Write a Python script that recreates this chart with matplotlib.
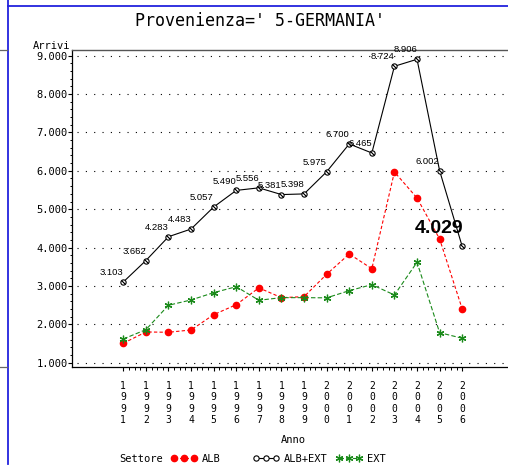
import matplotlib
matplotlib.use("Agg")
import numpy as np
from matplotlib import pyplot as plt
from matplotlib.lines import Line2D
from matplotlib.ticker import FixedLocator, FuncFormatter

years = list(range(1991, 2007))
alb = [1506, 1801, 1793, 1853, 2252, 2512, 2950, 2695, 2721, 3304, 3833, 3450, 5970, 5292, 4224, 2400]
ext = [1618, 1861, 2497, 2635, 2825, 2981, 2627, 2695, 2695, 2690, 2877, 3034, 2765, 3617, 1783, 1637]
tot = [3103, 3662, 4283, 4483, 5057, 5490, 5556, 5381, 5398, 5975, 6700, 6465, 8724, 8906, 6002, 4029]
tot_labels = ["3.103", "3.662", "4.283", "4.483", "5.057", "5.490", "5.556", "5.381",
              "5.398", "5.975", "6.700", "6.465", "8.724", "8.906", "6.002", "4.029"]
y_ticks = [1000, 2000, 3000, 4000, 5000, 6000, 7000, 8000, 9000]

W, H = 508, 466
MONO = "DejaVu Sans Mono"
LABEL_FONT = ["Liberation Sans Narrow", "Liberation Sans", "DejaVu Sans"]

fig = plt.figure(figsize=(W / 100, H / 100), dpi=100)


def px(x0, y0, x1, y1):
    # figure-pixel box (from top-left) -> axes rect
    return [x0 / W, 1 - y1 / H, (x1 - x0) / W, (y1 - y0) / H]


ax = fig.add_axes(px(72, 50, 530, 367))
ax.set_xlim(1988.73, 2009.0)
ax.set_ylim(888, 9148)

ax.plot(years, alb, color="red", lw=0.8, dashes=(3, 2), marker="o",
        markersize=4.5, markerfacecolor="red", markeredgecolor="red", zorder=3)
ax.plot(years, ext, color="#1a8a1a", lw=0.8, dashes=(4, 2), marker=(6, 2, 0),
        markersize=5.5, markeredgewidth=0.9, markeredgecolor="#1a8a1a", zorder=3)
ax.plot(years, tot, color="black", lw=0.8, marker="o", markersize=3.8,
        markerfacecolor="white", markeredgecolor="black", markeredgewidth=0.8, zorder=4)
ax.plot(years, tot, ls="none", marker=(2, 2, 45), markersize=3.8,
        markeredgecolor="black", markeredgewidth=0.6, zorder=5)

for i, (x, y, s) in enumerate(zip(years, tot, tot_labels)):
    if i == len(years) - 1:
        ax.annotate(s, (x, y), xytext=(1, 10), textcoords="offset points",
                    ha="right", va="baseline", fontsize=14, fontweight="bold",
                    family=LABEL_FONT, zorder=6)
    else:
        ax.annotate(s, (x, y), xytext=(0, 3.5), textcoords="offset points",
                    ha="right", va="bottom", fontsize=6.8, family=LABEL_FONT, zorder=6)

# axes styling
ax.spines["right"].set_visible(False)
ax.spines["top"].set_color("#555555")
ax.spines["top"].set_linewidth(1.0)
for s in ("left", "bottom"):
    ax.spines[s].set_linewidth(0.9)

ax.yaxis.set_major_locator(FixedLocator(y_ticks))
ax.yaxis.set_minor_locator(FixedLocator([v for v in range(1000, 9001, 200) if v % 1000]))
ax.yaxis.set_major_formatter(FuncFormatter(lambda v, p: f"{int(v):,}".replace(",", ".")))
ax.xaxis.set_major_locator(FixedLocator(years))
ax.xaxis.set_minor_locator(FixedLocator([y + q for y in years[:-1] for q in (0.25, 0.5, 0.75)]))
ax.set_xticklabels(["\n".join(str(y)) for y in years])

ax.tick_params(axis="y", which="major", direction="out", length=3, width=0.8, pad=0,
               labelsize=7.5)
ax.tick_params(axis="y", which="minor", direction="out", length=1.8, width=0.7)
ax.tick_params(axis="x", which="major", direction="out", length=3.2, width=0.8, pad=7,
               labelsize=7)
ax.tick_params(axis="x", which="minor", direction="out", length=1.8, width=0.7)
for lab in ax.get_yticklabels() + ax.get_xticklabels():
    lab.set_family(MONO)
for lab in ax.get_xticklabels():
    lab.set_linespacing(1.15)

ax.grid(axis="y", which="major", color="black", lw=0.8, linestyle=(3, (1, 6.5)))
ax.set_axisbelow(True)

# texts
fig.text(260 / W, 1 - 21 / H, "Provenienza=' 5-GERMANIA'", family=MONO, fontsize=12,
         ha="center", va="center")
fig.text(52 / W, 1 - 46 / H, "Arrivi", family=MONO, fontsize=7.5, ha="center", va="center")
fig.text(293 / W, 1 - 440 / H, "Anno", family=MONO, fontsize=7.5, ha="center", va="center")
fig.text(119 / W, 1 - 459 / H, "Settore", family=MONO, fontsize=7.5, ha="left", va="center")

# legend entries
leg_handles = [
    Line2D([], [], color="red", lw=0.8, dashes=(3, 2), marker="o", markersize=4.5),
    Line2D([], [], color="black", lw=0.8, marker="o", markersize=3.8,
           markerfacecolor="white", markeredgewidth=0.8),
    Line2D([], [], color="#1a8a1a", lw=0.8, dashes=(4, 2), marker=(6, 2, 0),
           markersize=5.5, markeredgewidth=0.9),
]
leg_names = ["ALB", "ALB+EXT", "EXT"]
leg_x = [171, 253, 336]
for h, n, lx in zip(leg_handles, leg_names, leg_x):
    leg = fig.legend([h], [n], loc="center left", bbox_to_anchor=(lx / W, 1 - 459 / H),
                     frameon=False, numpoints=3, handlelength=2.5, handletextpad=0.5,
                     borderpad=0, borderaxespad=0, prop={"family": MONO, "size": 7.5})

# page frame decorations
blue = "#2222dd"
fig.add_artist(Line2D([8 / W, 8 / W], [0.005, 1], color=blue, lw=1.3,
                      transform=fig.transFigure))
fig.add_artist(Line2D([8 / W, 1], [1 - 6 / H, 1 - 6 / H], color=blue, lw=1.3,
                      transform=fig.transFigure))
for yy in (50, 367):
    fig.add_artist(Line2D([0, 7 / W], [1 - yy / H, 1 - yy / H], color="#666666", lw=0.9,
                          transform=fig.transFigure))

fig.savefig("out.png", dpi=100)
